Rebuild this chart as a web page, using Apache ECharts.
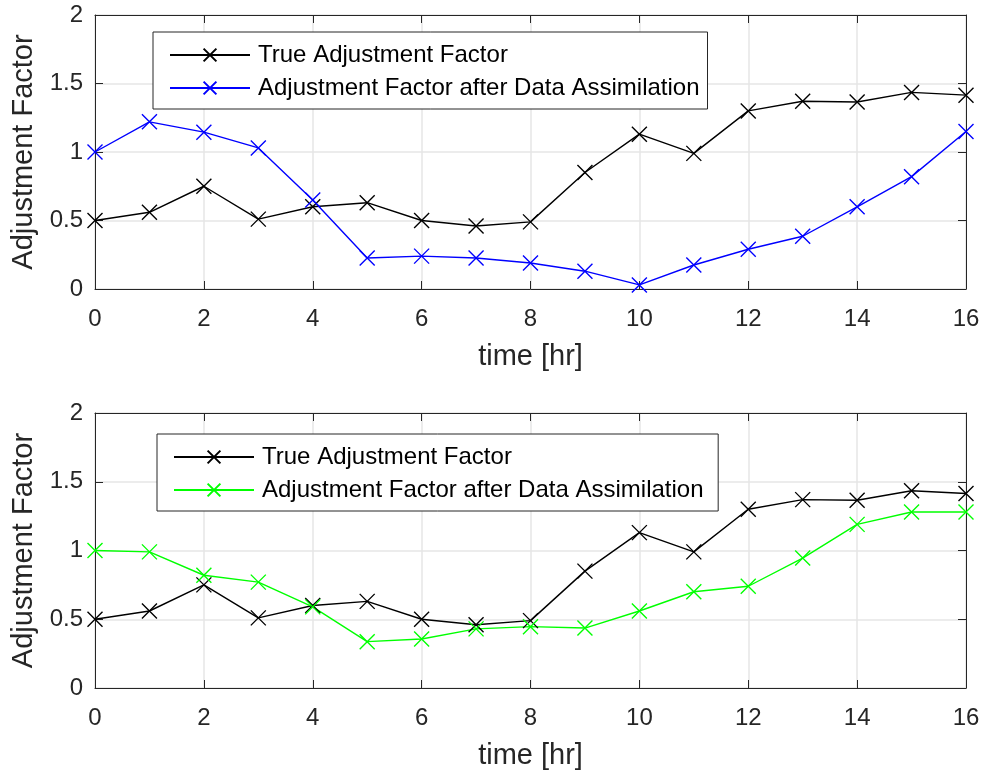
<!DOCTYPE html>
<html><head><meta charset="utf-8">
<script src="https://cdn.jsdelivr.net/npm/echarts@6/dist/echarts.min.js"></script>
<style>html,body{margin:0;padding:0;background:#fff}#c{width:986px;height:776px}</style>
</head><body><div id="c"></div>
<script>
const times = [0,1,2,3,4,5,6,7,8,9,10,11,12,13,14,15,16];
const trueFactor = [0.50,0.56,0.75,0.51,0.60,0.63,0.50,0.46,0.49,0.85,1.13,0.99,1.30,1.37,1.365,1.435,1.415];
const assimTop = [1.00,1.22,1.145,1.03,0.65,0.226,0.24,0.226,0.19,0.13,0.03,0.175,0.29,0.385,0.60,0.82,1.15];
const assimBottom = [1.00,0.99,0.82,0.77,0.59,0.337,0.356,0.43,0.446,0.436,0.56,0.70,0.74,0.945,1.19,1.28,1.28];
const xTicks = [0,2,4,6,8,10,12,14,16];
const yTicks = [0,0.5,1,1.5,2];
const nameTrue = 'True Adjustment Factor';
const nameAssim = 'Adjustment Factor after Data Assimilation';

const FONT = 'Liberation Sans, Arial, sans-serif';
const AX = '#262626';
const cross = 'path://M0,0L10,10M10,0L0,10';
const pairs = v => times.map((t,i)=>[t,v[i]]);

function xAx(gi, top){
  return {
    type:'value', gridIndex:gi, min:xTicks[0], max:xTicks[xTicks.length-1], interval:xTicks[1]-xTicks[0],
    position: top ? 'top':'bottom',
    name: top ? '' : 'time [hr]', nameLocation:'middle', nameGap:53,
    nameTextStyle:{fontFamily:FONT,fontSize:29,color:AX},
    axisLine:{show:true,onZero:false,lineStyle:{color:AX,width:1}},
    axisTick:{show:true,inside:true,length:8,lineStyle:{color:AX}},
    axisLabel:{show:!top,fontFamily:FONT,fontSize:24,color:AX,margin:18},
    splitLine:{show:!top,lineStyle:{color:'#e6e6e6',width:1.5}}
  };
}
function yAx(gi, right){
  return {
    type:'value', gridIndex:gi, min:yTicks[0], max:yTicks[yTicks.length-1], interval:yTicks[1]-yTicks[0],
    position: right ? 'right':'left',
    name: right ? '' : 'Adjustment Factor', nameLocation:'middle', nameGap:55,
    nameTextStyle:{fontFamily:FONT,fontSize:29,color:AX},
    axisLine:{show:true,onZero:false,lineStyle:{color:AX,width:1}},
    axisTick:{show:true,inside:true,length:8,lineStyle:{color:AX}},
    axisLabel:{show:!right,fontFamily:FONT,fontSize:24,color:AX,margin:12,
      formatter:v=>String(v)},
    splitLine:{show:!right,lineStyle:{color:'#e6e6e6',width:1.5}}
  };
}
function ser(name, vals, color, xi, yi){
  return {
    name, type:'line', xAxisIndex:xi, yAxisIndex:yi, data:pairs(vals),
    symbol:cross, symbolSize:15, showSymbol:true,
    lineStyle:{color, width:1.4},
    itemStyle:{color:'rgba(0,0,0,0)', borderColor:color, borderWidth:1.4},
    animation:false, z:5
  };
}
function legend(left, top, names){
  return {
    data:names, orient:'vertical', left, top,
    backgroundColor:'#fff', borderColor:AX, borderWidth:1,
    padding:[11,8,9,16], itemGap:9, itemWidth:80, itemHeight:16,
    textStyle:{fontFamily:FONT,fontSize:24,color:'#000',padding:[0,0,0,3]}
  };
}

const chart = echarts.init(document.getElementById('c'), null, {renderer:'canvas'});
chart.setOption({
  backgroundColor:'#fff',
  animation:false,
  grid:[
    {left:95, top:15, width:871, height:274},
    {left:95, top:413, width:871, height:275}
  ],
  xAxis:[xAx(0,false), xAx(1,false), xAx(0,true), xAx(1,true)],
  yAxis:[yAx(0,false), yAx(1,false), yAx(0,true), yAx(1,true)],
  legend:[
    legend(153,32,[nameTrue, nameAssim]),
    legend(157,434,[nameTrue+' ', nameAssim+' '])
  ],
  series:[
    ser(nameTrue, trueFactor, '#000000', 0, 0),
    ser(nameAssim, assimTop, '#0000ff', 0, 0),
    ser(nameTrue+' ', trueFactor, '#000000', 1, 1),
    ser(nameAssim+' ', assimBottom, '#00ff00', 1, 1)
  ]
});
</script></body></html>
